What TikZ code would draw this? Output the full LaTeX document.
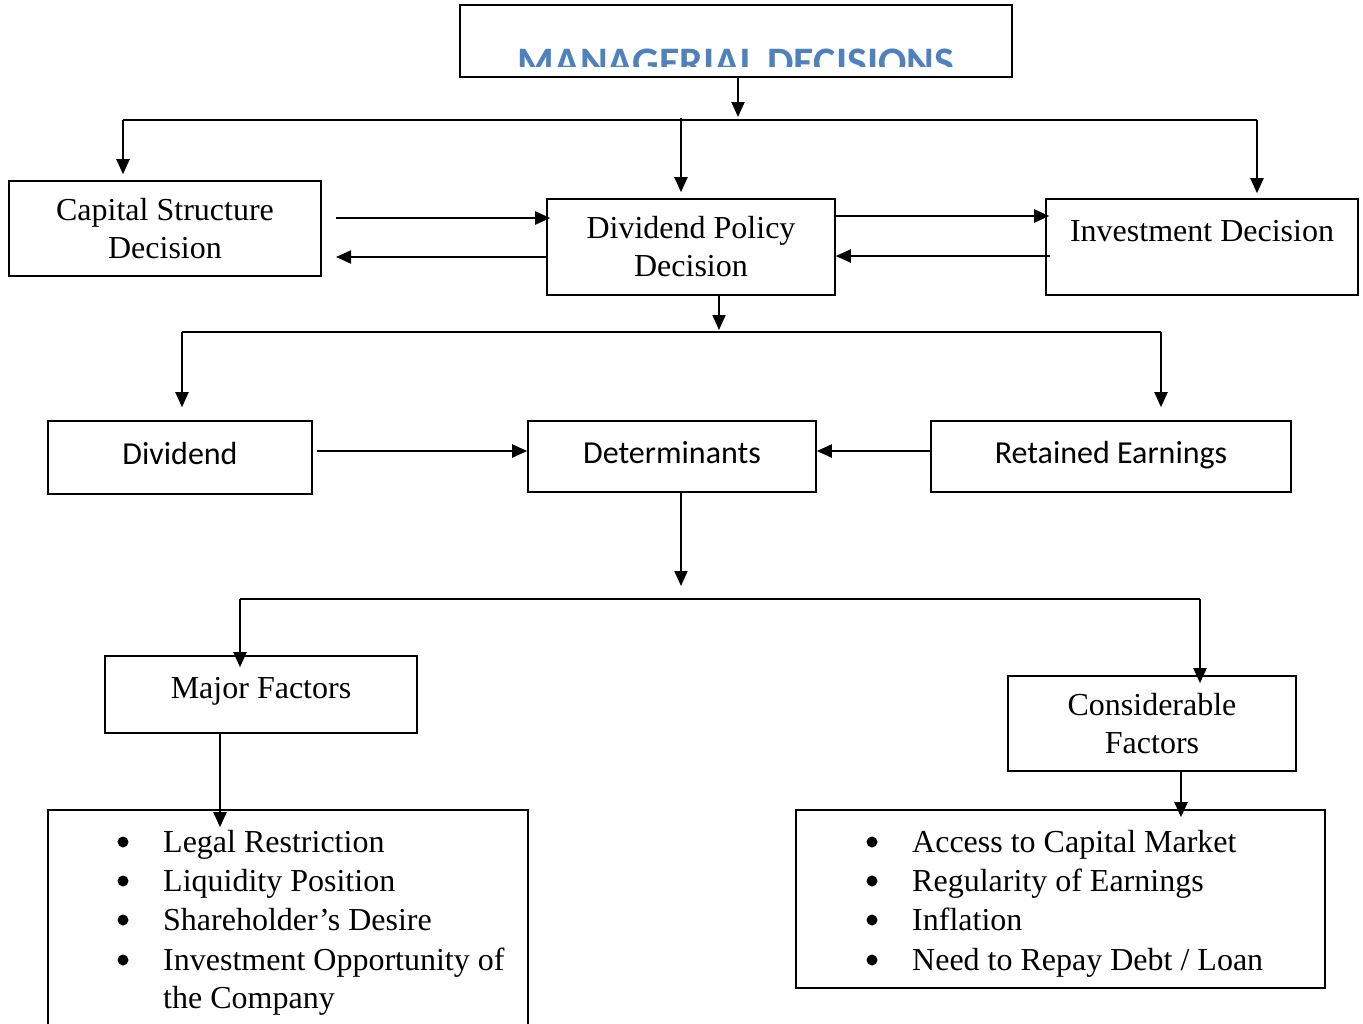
\documentclass[tikz,border=0pt]{standalone}
\usepackage{fontspec}
\setmainfont{Liberation Serif}
\newfontfamily\calibri{Carlito}
\usetikzlibrary{arrows.meta,calc}
\definecolor{titleblue}{HTML}{4F81BD}
\begin{document}
\begin{tikzpicture}[x=1pt,y=-1pt,
  box/.style={draw,line width=1.6pt,inner sep=0pt,align=center,
    font=\fontsize{32}{38}\selectfont},
  sbox/.style={box,font=\calibri\fontsize{32}{38}\selectfont,text height=23pt,text depth=10pt},
  link/.style={line width=2pt},
  arr/.style={link,-{Triangle[width=13pt,length=15pt]}},
  listline/.style={anchor=base west,inner sep=0pt,font=\fontsize{32}{39}\selectfont},
  dot/.style={fill=black}]
\useasboundingbox (0,0) rectangle (1363,1023);
\clip (0,0) rectangle (1363,1023);

% ---- boxes ----
\node[box,minimum width=552pt,minimum height=72pt] (top) at (736,41) {};
\begin{scope}
  \clip (461,6) rectangle (1011,66);
  \node[anchor=base,inner sep=0pt,text=titleblue,
        font=\calibri\bfseries\fontsize{42}{46}\selectfont] (title) at (736,76)
        {MANAGERIAL DECISIONS};
\end{scope}

\node[box,minimum width=312pt,minimum height=95pt] (cap) at (165,228.5)
  {Capital Structure\\Decision};
\node[box,minimum width=288pt,minimum height=96pt] (dpd) at (691,247)
  {Dividend Policy\\Decision};
\node[box,minimum width=312pt,minimum height=96pt,text height=23pt,text depth=35pt]
  (inv) at (1202,247) {Investment Decision};

\node[sbox,minimum width=264pt,minimum height=73pt] (div) at (180,457.5) {Dividend};
\node[sbox,minimum width=288pt,minimum height=71pt] (det) at (672,456.5) {Determinants};
\node[sbox,minimum width=360pt,minimum height=71pt] (ret) at (1111,456.5) {Retained Earnings};

\node[box,minimum width=312pt,minimum height=77pt,text height=23pt,text depth=16pt]
  (maj) at (261,694.5) {Major Factors};
\node[box,minimum width=288pt,minimum height=95pt] (con) at (1152,723.5)
  {Considerable\\Factors};

\node[draw,line width=1.6pt,inner sep=0pt,minimum width=480pt,minimum height=240pt]
  (llist) at (288,930) {};
\node[draw,line width=1.6pt,inner sep=0pt,minimum width=529pt,minimum height=178pt]
  (rlist) at (1060.5,899) {};

% ---- bullet lists ----
\node[listline] (l1) at (163,852)  {Legal Restriction};
\node[listline] (l2) at (163,891)  {Liquidity Position};
\node[listline] (l3) at (163,930)  {Shareholder’s Desire};
\node[listline] (l4) at (163,970)  {Investment Opportunity of};
\node[listline] (l5) at (163,1008) {the Company};

\node[listline] (r1) at (912,852) {Access to Capital Market};
\node[listline] (r2) at (912,891) {Regularity of Earnings};
\node[listline] (r3) at (912,930) {Inflation};
\node[listline] (r4) at (912,970) {Need to Repay Debt / Loan};

\foreach \yy in {842,881,920,960}{
  \fill[dot] (123,\yy) circle (5.5pt);
  \fill[dot] (872,\yy) circle (5.5pt);
}

% ---- level 1 bus ----
\coordinate (b1L) at (123,120);
\coordinate (b1M) at (681,118);
\coordinate (b1R) at (1257,120);
\coordinate (b1in) at (738,120);
\draw[link] (b1L) -- (b1R);
\draw[arr,shorten >=3pt] (top.south -| b1in) -- (b1in);
\draw[arr,shorten >=6pt] (b1L) -- (b1L |- cap.north);
\draw[arr,shorten >=6pt] (b1M) -- (b1M |- dpd.north);
\draw[arr,shorten >=5pt] (b1R) -- (b1R |- inv.north);

% ---- exchanges between decisions ----
\coordinate (c1) at (336,218);
\coordinate (c2) at (336,257);
\coordinate (c3) at (1050,256);
\draw[arr] (c1) -- ([xshift=4pt]c1 -| dpd.west);
\draw[arr] (c2 -| dpd.west) -- (c2);
\draw[arr] (dpd.east |- 0,216) -- ([xshift=4pt]inv.west |- 0,216);
\draw[arr] (c3) -- (c3 -| dpd.east);

% ---- level 2 bus ----
\coordinate (b2L) at (182,332);
\coordinate (b2R) at (1161,332);
\coordinate (b2in) at (719,332);
\draw[link] (b2L) -- (b2R);
\draw[arr,shorten >=2pt] (dpd.south -| b2in) -- (b2in);
\draw[arr,shorten >=13pt] (b2L) -- (b2L |- div.north);
\draw[arr,shorten >=13pt] (b2R) -- (b2R |- ret.north);

% ---- into determinants ----
\coordinate (d1) at (317,451);
\draw[arr] (d1) -- (d1 -| det.west);
\draw[arr] (ret.west |- 0,451) -- (det.east |- 0,451);

% ---- level 3 bus ----
\coordinate (b3L) at (240,599);
\coordinate (b3R) at (1200,599);
\coordinate (b3in) at (681,599);
\draw[link] (b3L) -- (b3R);
\draw[arr,shorten >=13pt] (det.south -| b3in) -- (b3in);
\draw[arr,shorten >=-12pt] (b3L) -- (b3L |- maj.north);
\draw[arr,shorten >=-8pt] (b3R) -- (b3R |- con.north);

% ---- factor lists ----
\coordinate (m1) at (220,733);
\coordinate (k1) at (1181,771);
\draw[arr,shorten >=-18pt] (m1) -- (m1 |- llist.north);
\draw[arr,shorten >=-8pt] (k1) -- (k1 |- rlist.north);
\end{tikzpicture}
\end{document}
